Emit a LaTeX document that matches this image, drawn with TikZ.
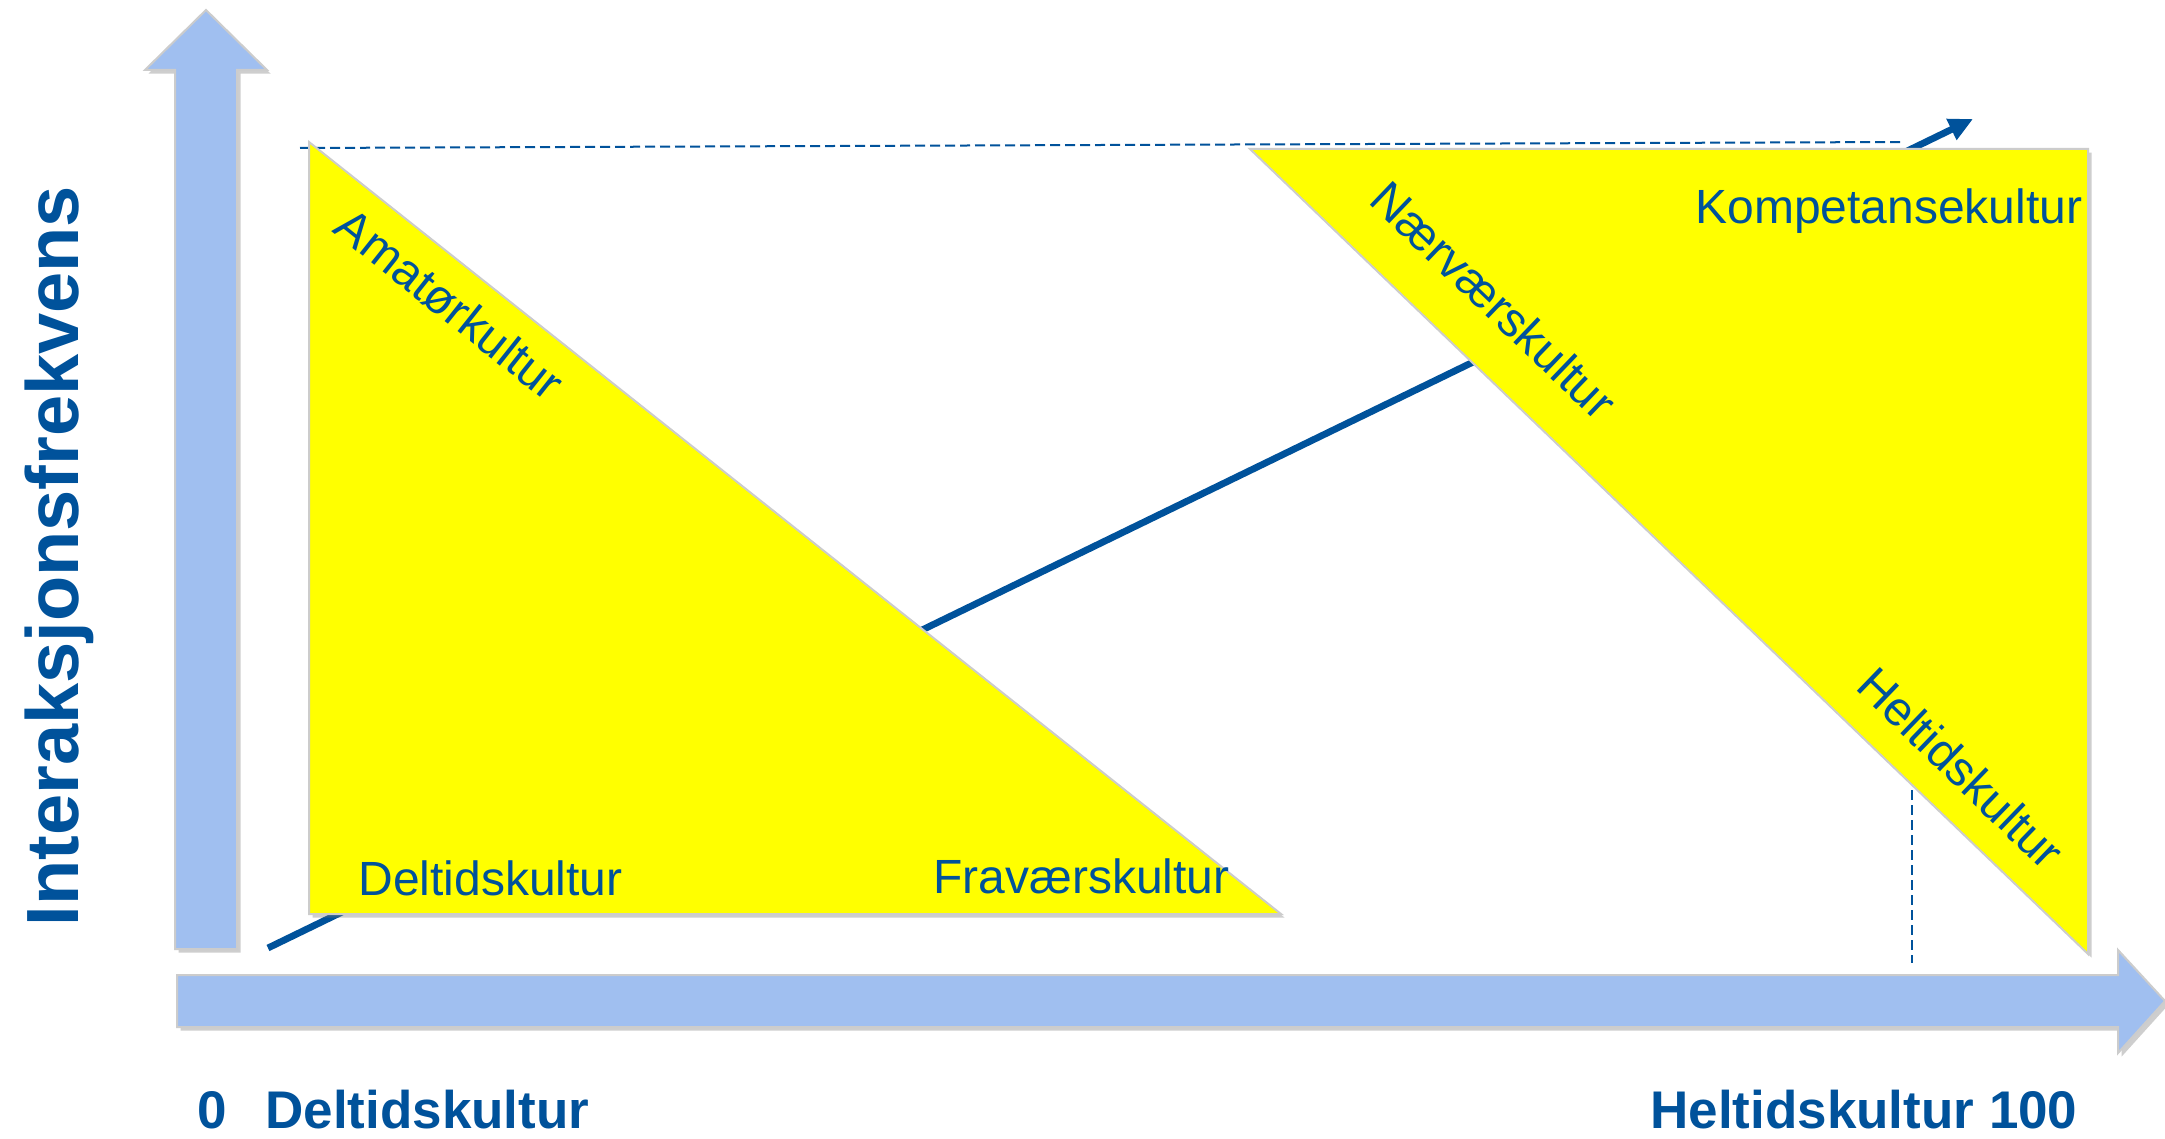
\documentclass[tikz,border=0pt]{standalone}
\usepackage{fontspec}
\setmainfont{Liberation Sans}
\usetikzlibrary{shadows,arrows.meta}
\definecolor{txtblue}{RGB}{0,82,155}
\definecolor{axisblue}{RGB}{160,191,240}
\definecolor{triyellow}{RGB}{255,255,0}
\begin{document}
\begin{tikzpicture}[x=0.5pt,y=-0.5pt,
  panel/.style={draw=black!20, line width=1pt,
     drop shadow={opacity=0.35, shadow xshift=1.8pt, shadow yshift=-1.8pt, fill=black!55}},
  yellowtri/.style={panel, fill=triyellow},
  axisarrow/.style={panel, fill=axisblue},
  dashline/.style={draw=txtblue, line width=1pt, dash pattern=on 5pt off 2.5pt},
  mainline/.style={draw=txtblue, line width=3.4pt, -{Triangle[length=12pt,width=11pt]}},
  lbl/.style={text=txtblue, inner sep=0pt, font=\fontsize{24}{28}\selectfont},
  blbl/.style={text=txtblue, inner sep=0pt, font=\fontsize{26.5}{30}\selectfont\bfseries},
  ylbl/.style={text=txtblue, inner sep=0pt, font=\fontsize{37}{42}\selectfont\bfseries}]
\useasboundingbox (0,0) rectangle (2165,1139);
\fill[white] (0,0) rectangle (2165,1139);

% dashed guide lines
\coordinate (dhA) at (300,148);
\coordinate (dhB) at (1903,142);
\coordinate (dvA) at (1912,790);
\coordinate (dvB) at (1912,963);
\draw[dashline] (dhA) -- (dhB);
\draw[dashline] (dvA) -- (dvB);

% main trend line
\coordinate (ls) at (268,948);
\coordinate (le) at (1973,119);
\draw[mainline] (ls) -- (le);

% triangles
\coordinate (t1a) at (309,142);
\coordinate (t1b) at (309,914);
\coordinate (t1c) at (1281,914);
\path[yellowtri] (t1a) -- (t1b) -- (t1c) -- cycle;
\coordinate (t2a) at (1250,149);
\coordinate (t2b) at (2088,149);
\coordinate (t2c) at (2088,954);
\path[yellowtri] (t2a) -- (t2b) -- (t2c) -- cycle;

% axes arrows
\path[axisarrow] (175,949) -- (175,70) -- (145,70) -- (206,10) -- (267,70) -- (237,70) -- (237,949) -- cycle;
\path[axisarrow] (177,975) -- (2118,975) -- (2118,950) -- (2165,1001) -- (2118,1053) -- (2118,1027) -- (177,1027) -- cycle;

% labels
\node[lbl, rotate=-38.5] (amat) at (450,304) {Amatørkultur};
\node[lbl, anchor=base west] (delt) at (358,895) {Deltidskultur};
\node[lbl, anchor=base west] (frav) at (933,893) {Fraværskultur};
\node[lbl, rotate=-43.8] (naer) at (1494,300) {Nærværskultur};
\node[lbl, anchor=base west] (komp) at (1695,224) {Kompetansekultur};
\node[lbl, rotate=-44] (helt) at (1961,768) {Heltidskultur};

\node[ylbl, rotate=90, anchor=base] (yax) at (78,556) {Interaksjonsfrekvens};
\node[blbl, anchor=base west] (zero) at (197,1128) {0};
\node[blbl, anchor=base west] (xdel) at (265,1128) {Deltidskultur};
\node[blbl, anchor=base west] (xhel) at (1650,1128) {Heltidskultur 100};
\end{tikzpicture}
\end{document}
